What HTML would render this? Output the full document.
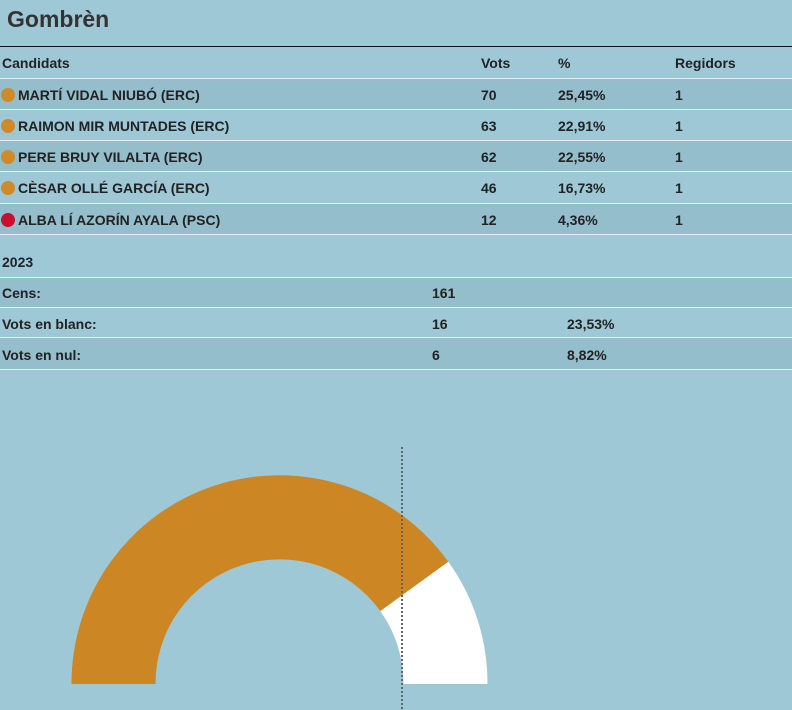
<!DOCTYPE html>
<html><head><meta charset="utf-8"><style>
html,body{margin:0;padding:0}
body{width:792px;height:710px;background:#9fc8d7;position:relative;overflow:hidden;font-family:"Liberation Sans",Arial,sans-serif;color:#222;}
.t{position:absolute;font-size:14px;font-weight:bold;white-space:nowrap}
.row{position:absolute;left:0;width:792px;border-bottom:1px solid #e4eef2}
.dk{background:rgba(80,120,140,0.12)}
.dot{position:absolute;width:14px;height:14px;border-radius:50%}
h1{position:absolute;left:7px;top:6px;margin:0;font-size:23px;font-weight:bold;color:#333}
</style></head><body>
<h1>Gombrèn</h1>
<div style="position:absolute;left:0;top:46px;width:792px;height:1px;background:#111"></div>
<div class="row" style="top:47px;height:31px"></div>
<div class="row dk" style="top:79px;height:30px"></div>
<div class="row" style="top:110px;height:30px"></div>
<div class="row dk" style="top:141px;height:30px"></div>
<div class="row" style="top:172px;height:31px"></div>
<div class="row dk" style="top:204px;height:30px"></div>
<div class="row dk" style="top:277px;height:29px;border-top:1px solid #e4eef2"></div>
<div class="row" style="top:307px;height:30px"></div>
<div class="row dk" style="top:338px;height:31px"></div>

<div class="t" style="left:2px;top:55px">Candidats</div>
<div class="t" style="left:481px;top:55px">Vots</div>
<div class="t" style="left:558px;top:55px">%</div>
<div class="t" style="left:675px;top:55px">Regidors</div>

<div class="dot" style="left:1px;top:88px;background:#d08a2a"></div>
<div class="t" style="left:18px;top:87px">MARTÍ VIDAL NIUBÓ (ERC)</div>
<div class="t" style="left:481px;top:87px">70</div><div class="t" style="left:558px;top:87px">25,45%</div><div class="t" style="left:675px;top:87px">1</div>

<div class="dot" style="left:1px;top:119px;background:#d08a2a"></div>
<div class="t" style="left:18px;top:118px">RAIMON MIR MUNTADES (ERC)</div>
<div class="t" style="left:481px;top:118px">63</div><div class="t" style="left:558px;top:118px">22,91%</div><div class="t" style="left:675px;top:118px">1</div>

<div class="dot" style="left:1px;top:150px;background:#d08a2a"></div>
<div class="t" style="left:18px;top:149px">PERE BRUY VILALTA (ERC)</div>
<div class="t" style="left:481px;top:149px">62</div><div class="t" style="left:558px;top:149px">22,55%</div><div class="t" style="left:675px;top:149px">1</div>

<div class="dot" style="left:1px;top:181px;background:#d08a2a"></div>
<div class="t" style="left:18px;top:180px">CÈSAR OLLÉ GARCÍA (ERC)</div>
<div class="t" style="left:481px;top:180px">46</div><div class="t" style="left:558px;top:180px">16,73%</div><div class="t" style="left:675px;top:180px">1</div>

<div class="dot" style="left:1px;top:213px;background:#c8102e"></div>
<div class="t" style="left:18px;top:212px">ALBA LÍ AZORÍN AYALA (PSC)</div>
<div class="t" style="left:481px;top:212px">12</div><div class="t" style="left:558px;top:212px">4,36%</div><div class="t" style="left:675px;top:212px">1</div>

<div class="t" style="left:2px;top:254px">2023</div>
<div class="t" style="left:2px;top:285px">Cens:</div><div class="t" style="left:432px;top:285px">161</div>
<div class="t" style="left:2px;top:316px">Vots en blanc:</div><div class="t" style="left:432px;top:316px">16</div><div class="t" style="left:567px;top:316px">23,53%</div>
<div class="t" style="left:2px;top:347px">Vots en nul:</div><div class="t" style="left:432px;top:347px">6</div><div class="t" style="left:567px;top:347px">8,82%</div>

<svg style="position:absolute;left:0;top:0" width="792" height="710">
<path d="M71.5 684 A208 208 0 0 1 448.3 561.7 L380.3 611.1 A124 124 0 0 0 155.5 684 Z" fill="#cc8724"/>
<path d="M448.3 561.7 A208 208 0 0 1 487.5 684 L403.5 684 A124 124 0 0 0 380.3 611.1 Z" fill="#fff"/>
<line x1="402" y1="447" x2="402" y2="710" stroke="#666" stroke-width="2" stroke-dasharray="2,2"/>
</svg>
</body></html>
